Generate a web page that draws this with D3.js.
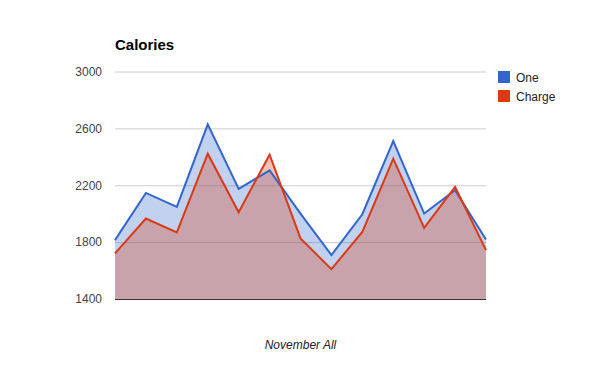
<!DOCTYPE html>
<html>
<head>
<meta charset="utf-8">
<script src="https://cdn.jsdelivr.net/npm/d3@7"></script>
<style>
  body { margin: 0; background: #fff; }
  svg { display: block; font-family: Arial, "Liberation Sans", sans-serif; }
</style>
</head>
<body>
<div id="chart"></div>
<script>
// values
const points = d3.range(13);
const seriesNames = ['One', 'Charge'];
const seriesColors = ['#3366cc', '#dc3912'];
const oneValues = [1814, 2146, 2048, 2628, 2174, 2305, 2000, 1709, 1996, 2511, 2001, 2165, 1819];
const chargeValues = [1721, 1966, 1868, 2422, 2010, 2415, 1826, 1610, 1872, 2387, 1900, 2188, 1744];
const yTicks = [1400, 1800, 2200, 2600, 3000];

const width = 600, height = 371;
const plot = { left: 115, right: 486, top: 71.5, bottom: 299 };

const svg = d3.select('#chart').append('svg')
    .attr('width', width)
    .attr('height', height);

const x = d3.scaleLinear()
    .domain([0, points.length - 1])
    .range([plot.left, plot.right]);

const y = d3.scaleLinear()
    .domain([1400, 3000])
    .range([plot.bottom, plot.top]);

// title
svg.append('text')
    .attr('x', 115)
    .attr('y', 50)
    .attr('font-size', '15px')
    .attr('font-weight', 'bold')
    .attr('fill', '#000')
    .text('Calories');

// gridlines + labels
const yAxis = d3.axisLeft(y)
    .tickValues(yTicks)
    .tickSize(-(plot.right - plot.left))
    .tickPadding(13)
    .tickFormat(d3.format('d'));

const ya = svg.append('g')
    .attr('transform', `translate(${plot.left},0)`)
    .call(yAxis);
ya.select('.domain').remove();
ya.selectAll('line').attr('stroke', '#cccccc');
ya.selectAll('text')
    .attr('fill', '#444')
    .attr('font-size', '12px')
    .attr('font-family', 'Arial, "Liberation Sans", sans-serif');

// areas and lines
const series = [oneValues, chargeValues];

series.forEach((vals, i) => {
    const area = d3.area()
        .x((d, j) => x(j))
        .y0(y(1400))
        .y1(d => y(d));
    svg.append('path')
        .datum(vals)
        .attr('d', area)
        .attr('fill', seriesColors[i])
        .attr('fill-opacity', 0.3);
});

series.forEach((vals, i) => {
    const line = d3.line()
        .x((d, j) => x(j))
        .y(d => y(d));
    svg.append('path')
        .datum(vals)
        .attr('d', line)
        .attr('fill', 'none')
        .attr('stroke', seriesColors[i])
        .attr('stroke-width', 2)
        .attr('stroke-linejoin', 'miter');
});

// baseline
svg.append('line')
    .attr('x1', plot.left)
    .attr('x2', plot.right)
    .attr('y1', y(1400) + 0.5)
    .attr('y2', y(1400) + 0.5)
    .attr('stroke', '#333')
    .attr('stroke-width', 1);

// x axis title
svg.append('text')
    .attr('x', (plot.left + plot.right) / 2)
    .attr('y', 349)
    .attr('text-anchor', 'middle')
    .attr('font-size', '12px')
    .attr('font-style', 'italic')
    .attr('fill', '#222')
    .text('November All');

// legend
const legend = svg.append('g')
    .attr('transform', 'translate(498,71)');

seriesNames.forEach((name, i) => {
    legend.append('rect')
        .attr('x', 0)
        .attr('y', i * 19)
        .attr('width', 12)
        .attr('height', 12)
        .attr('fill', seriesColors[i]);
    legend.append('text')
        .attr('x', 18)
        .attr('y', i * 19 + 10.5)
        .attr('font-size', '12px')
        .attr('fill', '#222')
        .text(name);
});
</script>
</body>
</html>
